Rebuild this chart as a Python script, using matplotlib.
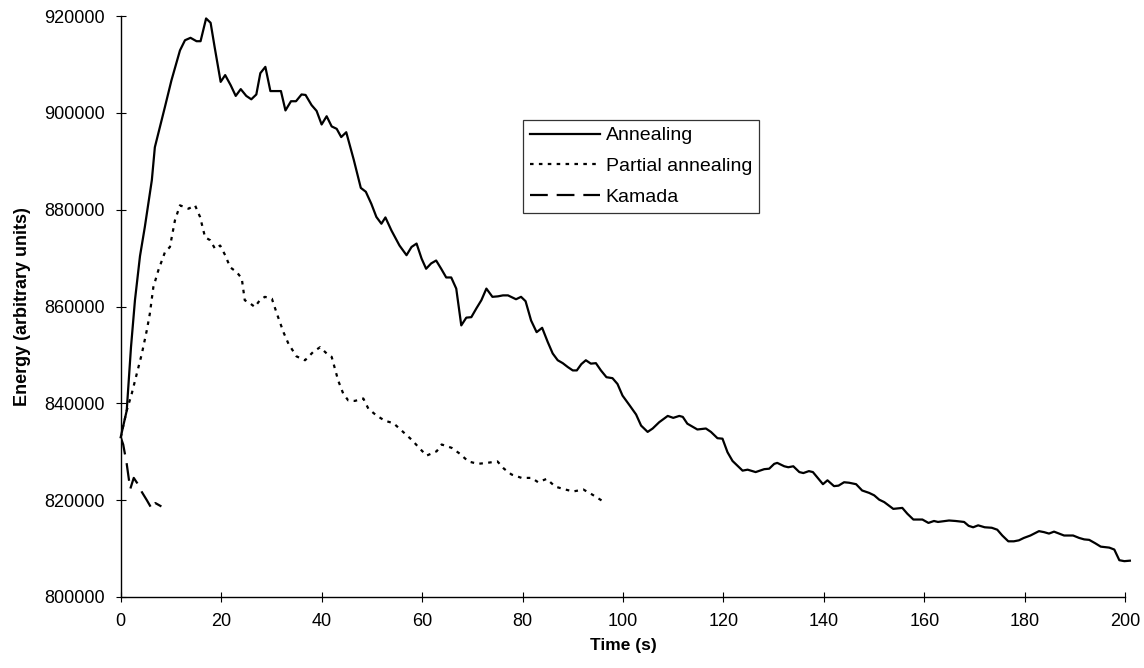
import matplotlib
matplotlib.use("Agg")
import matplotlib.pyplot as plt

plt.rcParams['font.family'] = ['Liberation Sans', 'DejaVu Sans']

# ---- data ----
anneal_t = [0, 1.2, 2.05, 2.84, 3.84, 4.8, 6.2, 6.8, 8.8, 10.1, 11.8, 12.8, 13.9, 15.1, 15.9,
            17.0, 17.9, 18.7, 19.9, 20.8, 21.9, 22.9, 23.9, 25.0, 26.0, 27.0, 27.8, 28.8, 29.8,
            31.9, 32.8, 33.9, 34.9, 36.0, 36.8, 38.0, 39.0, 40.0, 41.0, 42.0, 43.0, 43.9, 44.9,
            46.4, 47.8, 48.8, 49.9, 50.9, 51.9, 52.7, 53.9, 55.5, 56.9, 57.9, 58.9, 59.9, 60.8,
            61.8, 62.8, 63.8, 64.8, 65.8, 66.8, 67.8, 68.8, 69.8, 70.8, 71.8, 72.8, 74.0, 75.1,
            76.1, 77.1, 78.7, 79.7, 80.6, 81.7, 82.8, 83.9, 85.0, 86.0, 87.0, 88.0, 89.0, 90.0,
            90.8, 91.7, 92.6, 93.6, 94.6, 95.6, 96.7, 97.9, 98.9, 99.9, 101.3, 102.6, 103.6,
            104.9, 105.9, 107.2, 108.9, 110.0, 111.2, 111.9, 112.8, 114.8, 116.5, 117.5, 118.8,
            119.8, 120.8, 121.8, 123.8, 124.8, 126.4, 128.1, 129.1, 130.1, 130.7, 132.1, 132.9,
            133.9, 135.1, 135.9, 137.0, 137.8, 139.8, 140.7, 142.0, 142.9, 144.0, 145.0, 146.4,
            147.6, 149.0, 150.0, 151.0, 152.0, 153.8, 155.6, 156.6, 157.8, 159.6, 160.8, 161.9,
            162.7, 164.9, 166.2, 167.9, 168.8, 169.7, 170.7, 172.0, 173.4, 174.5, 175.5, 176.7,
            177.8, 178.8, 179.8, 181.1, 182.8, 183.8, 184.8, 185.8, 186.8, 187.8, 189.6, 190.8,
            191.8, 192.8, 194.0, 195.1, 196.8, 197.8, 198.8, 199.8, 200.9]
anneal_e = [833000, 838500, 851600, 861300, 870400, 876400, 886100, 892900, 901200, 906700,
            912900, 915000, 915500, 914800, 914800, 919500, 918600, 913600, 906400, 907800,
            905700, 903500, 904900, 903500, 902800, 903800, 908200, 909500, 904500, 904500,
            900500, 902400, 902400, 903800, 903700, 901600, 900400, 897600, 899300, 897200,
            896700, 895000, 896000, 890300, 884500, 883700, 881200, 878500, 877100, 878400,
            875700, 872600, 870600, 872300, 873000, 869900, 867800, 868900, 869500, 867800,
            866000, 866000, 863700, 856100, 857700, 857800, 859600, 861300, 863700, 862000,
            862100, 862300, 862300, 861500, 862000, 861100, 857100, 854700, 855600, 852700,
            850300, 848900, 848300, 847500, 846800, 846800, 848100, 848900, 848200, 848300,
            846800, 845400, 845200, 844000, 841600, 839600, 837700, 835400, 834100, 834800,
            836100, 837400, 837000, 837400, 837200, 835800, 834600, 834800, 834100, 832800,
            832700, 829900, 828100, 826100, 826300, 825800, 826400, 826500, 827500, 827700,
            827000, 826800, 827000, 825800, 825600, 826000, 825800, 823300, 824100, 822900,
            823000, 823700, 823600, 823300, 822000, 821500, 821000, 820100, 819600, 818200,
            818400, 817200, 816000, 816000, 815300, 815700, 815500, 815800, 815700, 815500,
            814700, 814400, 814800, 814400, 814300, 813900, 812700, 811500, 811500, 811700,
            812200, 812700, 813600, 813400, 813100, 813500, 813100, 812700, 812700, 812200,
            811900, 811800, 811100, 810400, 810200, 809800, 807600, 807400, 807500]

partial_t = [0, 1.2, 2.2, 3.2, 4.2, 5.2, 5.8, 6.5, 7.5, 8.8, 9.8, 10.8, 11.8, 13.5, 14.8, 15.8,
             16.8, 17.8, 18.8, 19.8, 20.8, 21.8, 23.1, 24.1, 24.7, 25.7, 26.7, 27.7, 28.7, 30.1,
             31.1, 32.4, 33.4, 35.0, 36.7, 38.3, 39.7, 41.0, 42.0, 43.3, 44.3, 45.3, 46.6, 48.3,
             49.3, 50.9, 52.6, 54.3, 55.9, 57.9, 59.6, 60.9, 62.9, 63.9, 65.9, 67.5, 69.2, 71.1,
             72.9, 75.0, 76.3, 77.8, 79.8, 81.8, 83.1, 84.8, 86.5, 88.5, 90.1, 92.1, 93.8, 95.8,
             96.5]
partial_e = [833000, 838500, 842000, 846100, 850200, 855100, 858500, 864000, 867500, 871200,
             872300, 877800, 880900, 880200, 880900, 878500, 874300, 873700, 871900, 872600,
             870600, 868100, 867100, 865800, 861300, 860700, 859900, 861300, 862000, 861600,
             858500, 854700, 852300, 849700, 848900, 850600, 851600, 850300, 849600, 844700,
             842000, 840600, 840500, 841000, 838900, 837500, 836400, 835900, 834400, 832500,
             830600, 829200, 830100, 831500, 830800, 829600, 828000, 827500, 827700, 828000,
             826500, 825300, 824600, 824600, 823700, 824400, 822800, 822200, 821800, 822200,
             821200, 819900, 819800]

kamada_t = [0, 0.5, 1.2, 1.9, 2.6, 3.3, 4.2, 5.2, 6.2, 6.9, 8.1]
kamada_e = [833000, 831500, 827500, 822300, 824600, 823500, 821700, 820000, 818200, 819400, 818700]

series_labels = ["Annealing", "Partial annealing", "Kamada"]
x_ticks = list(range(0, 201, 20))
y_ticks = list(range(800000, 920001, 20000))

# ---- figure ----
fig = plt.figure(figsize=(11.44, 6.68), dpi=100)
ax = fig.add_axes([0.1055, 0.1063, 0.8782, 0.8697])

ax.plot(anneal_t, anneal_e, color='black', lw=1.6, ls='-', label=series_labels[0], clip_on=False)
ax.plot(partial_t, partial_e, color='black', lw=1.6, ls=(0, (1.6, 2.4)), label=series_labels[1])
ax.plot(kamada_t, kamada_e, color='black', lw=1.6, ls=(0, (8, 4)), label=series_labels[2])

ax.set_xlim(0, 200)
ax.set_ylim(800000, 920000)
ax.set_xticks(x_ticks)
ax.set_yticks(y_ticks)
ax.set_xticklabels([str(v) for v in x_ticks])
ax.set_yticklabels([str(v) for v in y_ticks])

for s in ['top', 'right']:
    ax.spines[s].set_visible(False)
for s in ['left', 'bottom']:
    ax.spines[s].set_linewidth(1.0)
    ax.spines[s].set_color('black')

ax.tick_params(axis='both', direction='inout', length=7.2, width=0.8, colors='black', labelsize=13)
ax.tick_params(axis='y', pad=8)
ax.tick_params(axis='x', pad=8)

ax.set_xlabel('Time (s)', fontsize=12.5, fontweight='bold', labelpad=6)
ax.set_ylabel('Energy (arbitrary units)', fontsize=13, fontweight='bold', labelpad=9)

leg = ax.legend(loc='upper left', bbox_to_anchor=(0.4005, 0.821), fontsize=14,
                frameon=True, fancybox=False, shadow=False, handlelength=3.6,
                handletextpad=0.3, borderpad=0.35, labelspacing=0.68, borderaxespad=0)
leg.get_frame().set_edgecolor('black')
leg.get_frame().set_linewidth(0.9)

fig.savefig('out.png', dpi=100, facecolor='white')
